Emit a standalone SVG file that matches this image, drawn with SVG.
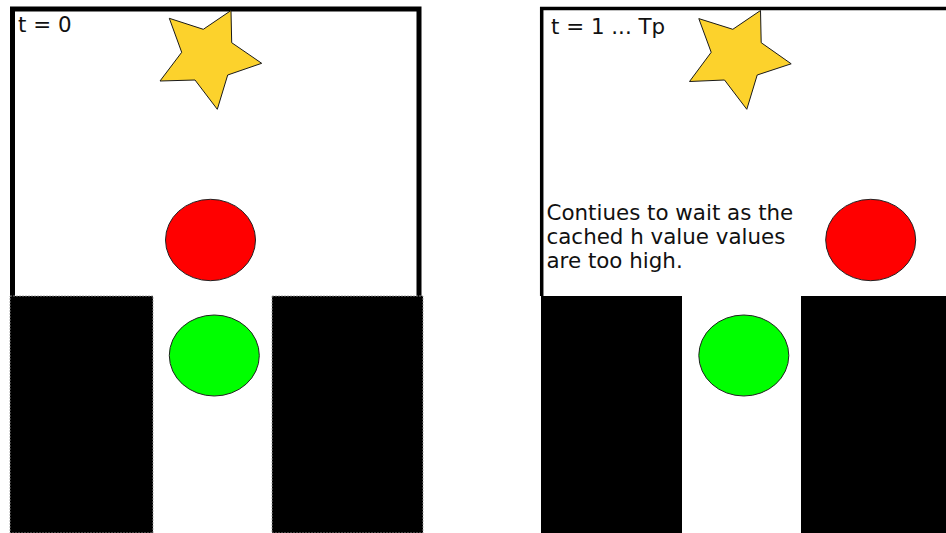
<svg xmlns="http://www.w3.org/2000/svg" width="946" height="533" viewBox="0 0 946 533">
<style>
.lbl{font-family:"DejaVu Sans","Noto Sans",sans-serif;font-size:21.4px;fill:#111}
.star{fill:#fcd22c;stroke:#1a1a1a;stroke-width:1}
.red{fill:#ff0000;stroke:#222;stroke-width:1}
.green{fill:#00ff00;stroke:#222;stroke-width:1}
.wall{fill:#000}
.frame{fill:none;stroke:#000}
</style>
<rect width="946" height="533" fill="#fff"/>
<g id="panel-left">
  <path class="frame" d="M12.5 296 V9 H419 V296" stroke-width="5"/>
  <g id="left-walls">
    <rect class="wall" x="10" y="296" width="143" height="237" stroke="#999" stroke-width="0.8" stroke-dasharray="2,1"/>
    <rect class="wall" x="272" y="296" width="151" height="237" stroke="#999" stroke-width="0.8" stroke-dasharray="2,1"/>
  </g>
  <g id="left-star"><polygon class="star" points="203.3,29.3 231,10.5 231.7,42.7 261.7,63.3 227.7,75 217.3,109.3 195,80 160,81 181.7,52.3 169.3,18.3"/></g>
  <g id="left-red"><ellipse class="red" cx="210.5" cy="240" rx="45" ry="40.7"/></g>
  <g id="left-green"><ellipse class="green" cx="214.3" cy="355.5" rx="45" ry="40.5"/></g>
  <text class="lbl" x="18" y="31.5">t = 0</text>
</g>
<g id="panel-right">
  <path class="frame" d="M541.7 296 V8.5 H950" stroke-width="3.5"/>
  <g id="right-walls">
    <rect class="wall" x="541" y="296" width="141" height="237"/>
    <rect class="wall" x="801" y="296" width="145" height="237"/>
  </g>
  <g id="right-star"><polygon class="star" points="732.8,29.3 760.5,10.5 761.2,42.7 791.2,63.8 757.2,75 746.8,109.3 724.5,80 689.5,81.5 711.2,52.3 698.8,18.6"/></g>
  <g id="right-red"><ellipse class="red" cx="870.7" cy="240" rx="45" ry="40.7"/></g>
  <g id="right-green"><ellipse class="green" cx="743.8" cy="355.5" rx="45" ry="40.5"/></g>
  <text class="lbl" x="551" y="33.5">t = 1 ... Tp</text>
  <text class="lbl" x="546.5"><tspan x="546.5" y="220">Contiues to wait as the</tspan><tspan x="546.5" y="244">cached h value values</tspan><tspan x="546.5" y="268">are too high.</tspan></text>
</g>
<g id="connectors"/>
</svg>
